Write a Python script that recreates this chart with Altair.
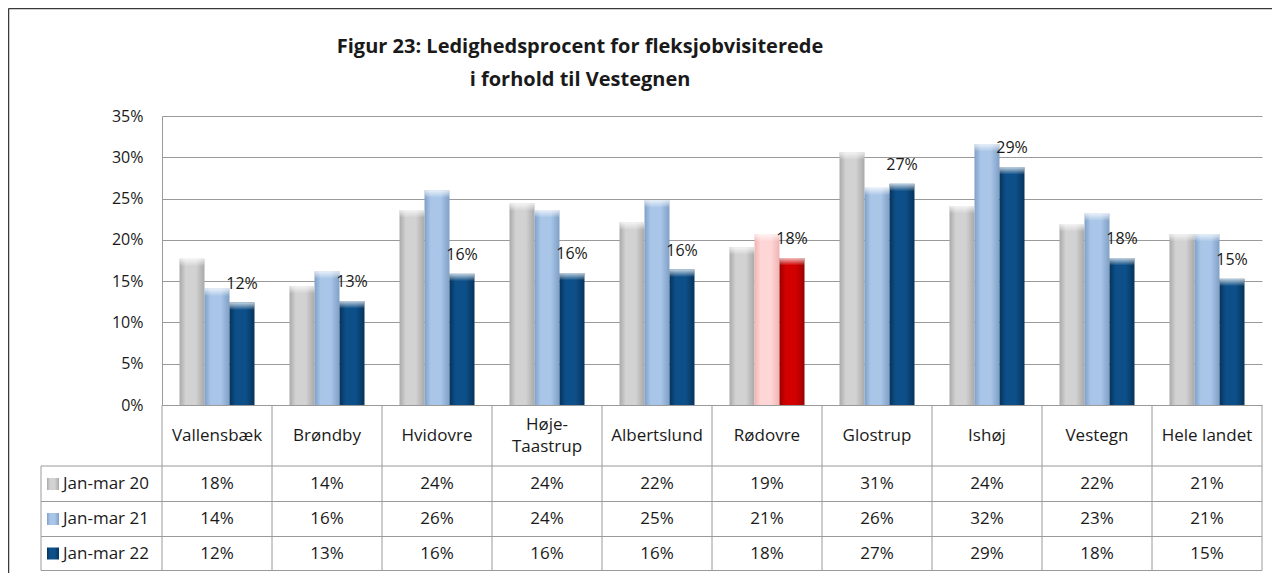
import altair as alt
import pandas as pd

# ---------------- data ----------------
categories = ["Vallensbæk", "Brøndby", "Hvidovre", "Høje-Taastrup", "Albertslund",
              "Rødovre", "Glostrup", "Ishøj", "Vestegn", "Hele landet"]
header_labels = ["Vallensbæk", "Brøndby", "Hvidovre", "Høje-\nTaastrup", "Albertslund",
                 "Rødovre", "Glostrup", "Ishøj", "Vestegn", "Hele landet"]
series = ["Jan-mar 20", "Jan-mar 21", "Jan-mar 22"]
jan_mar_20 = [0.177, 0.144, 0.236, 0.244, 0.221, 0.191, 0.306, 0.241, 0.219, 0.207]
jan_mar_21 = [0.141, 0.162, 0.260, 0.236, 0.248, 0.207, 0.263, 0.316, 0.232, 0.207]
jan_mar_22 = [0.124, 0.126, 0.159, 0.160, 0.164, 0.178, 0.268, 0.288, 0.178, 0.153]
highlight = "Rødovre"
title_lines = ["Figur 23: Ledighedsprocent for fleksjobvisiterede", "i forhold til Vestegnen"]
y_ticks = [0, 0.05, 0.10, 0.15, 0.20, 0.25, 0.30, 0.35]

values_by_series = {"Jan-mar 20": jan_mar_20, "Jan-mar 21": jan_mar_21, "Jan-mar 22": jan_mar_22}

rows = []
for s in series:
    for c, v in zip(categories, values_by_series[s]):
        if s == "Jan-mar 20":
            style = "gray"
        elif s == "Jan-mar 21":
            style = "pink" if c == highlight else "lightblue"
        else:
            style = "red" if c == highlight else "darkblue"
        rows.append({"cat": c, "series": s, "value": v, "style": style})
df = pd.DataFrame(rows)
hdr = pd.DataFrame({"cat": categories, "label": header_labels})
hdr["multi"] = hdr["label"].str.contains("\n")

# ---------------- styling ----------------
FONT = "Open Sans"
TXT = "#1a1a1a"
LINE = "#9a9a9a"
FS = 17
W, H = 1100, 289


def hgrad(edge, mid):
    return alt.Gradient(
        gradient="linear", x1=0, x2=1, y1=0, y2=0,
        stops=[alt.GradientStop(offset=0, color=edge),
               alt.GradientStop(offset=0.25, color=mid),
               alt.GradientStop(offset=0.65, color=mid),
               alt.GradientStop(offset=1, color=edge)])


fills = {
    "gray": hgrad("#a9a9a9", "#d2d2d2"),
    "lightblue": hgrad("#7f9fc6", "#a9c6e8"),
    "darkblue": hgrad("#06335c", "#0d4f88"),
    "pink": hgrad("#f0b4b4", "#ffd6d6"),
    "red": hgrad("#9a0000", "#d20000"),
}
key_fills = ["gray", "lightblue", "darkblue"]

xscale = alt.Scale(domain=categories, paddingInner=0, paddingOuter=0)
x_enc = alt.X("cat:N", sort=categories, scale=xscale, axis=None)
xo_enc = alt.XOffset("series:N", scale=alt.Scale(domain=series, paddingInner=0, paddingOuter=0.7))
yscale = alt.Scale(domain=[0, 0.35], nice=False, zero=True)
y_axis = alt.Axis(values=y_ticks, format=".0%", grid=True, ticks=False, tickSize=0,
                  domain=True, domainColor=LINE, gridColor=LINE, gridOpacity=1, labelPadding=19,
                  labelFont=FONT, labelFontSize=16, labelColor=TXT, title=None)
y_enc = alt.Y("value:Q", scale=yscale, axis=y_axis)

base = alt.Chart(df)
layers = []

# axis carrier layer
layers.append(
    alt.Chart(pd.DataFrame({"value": y_ticks})).mark_tick(opacity=0).encode(y=y_enc)
)

# bars (one layer per fill style)
for st in ["gray", "lightblue", "darkblue", "pink", "red"]:
    layers.append(
        base.transform_filter(alt.datum.style == st)
        .mark_bar(color=fills[st])
        .encode(x=x_enc, xOffset=xo_enc, y=y_enc)
    )

# bevel highlight at the top of each bar
layers.append(
    base.transform_calculate(cap="datum.value - 0.009")
    .mark_bar(color=alt.Gradient(gradient="linear", x1=0, x2=0, y1=0, y2=1,
                                 stops=[alt.GradientStop(offset=0, color="rgba(255,255,255,0.75)"),
                                        alt.GradientStop(offset=1, color="rgba(255,255,255,0)")]))
    .encode(x=x_enc, xOffset=xo_enc, y=y_enc, y2="cap:Q")
)

# data labels for Jan-mar 22
layers.append(
    base.transform_filter(alt.datum.series == "Jan-mar 22")
    .mark_text(font=FONT, fontSize=16, color=TXT, baseline="middle", dy=-19)
    .encode(x=x_enc, xOffset=xo_enc, y=y_enc,
            text=alt.Text("value:Q", format=".0%"))
)

# ---------------- data table ----------------
one = pd.DataFrame({"k": [0]})
row_lines = [350, 385.5, 420.5, 454.5]
row_centers = [368, 403, 437.5]

# vertical lines at category boundaries
layers.append(
    alt.Chart(hdr).mark_rule(color=LINE, strokeWidth=1)
    .encode(x=alt.X("cat:N", sort=categories, scale=xscale, axis=None, bandPosition=0),
            y=alt.value(H), y2=alt.value(row_lines[-1]))
)
layers.append(alt.Chart(one).mark_rule(color=LINE).encode(
    x=alt.value(W), y=alt.value(H), y2=alt.value(row_lines[-1])))
layers.append(alt.Chart(one).mark_rule(color=LINE).encode(
    x=alt.value(-121), y=alt.value(row_lines[0]), y2=alt.value(row_lines[-1])))
for yl in row_lines:
    layers.append(alt.Chart(one).mark_rule(color=LINE).encode(
        x=alt.value(-121), x2=alt.value(W), y=alt.value(yl)))

# header labels (single-line and two-line)
for multi, yv in [(False, 320), (True, 309)]:
    layers.append(
        alt.Chart(hdr).transform_filter(alt.datum.multi == multi)
        .mark_text(font=FONT, fontSize=FS, color=TXT, baseline="middle",
                   lineBreak="\n", lineHeight=22)
        .encode(x=x_enc, y=alt.value(yv), text="label:N")
    )

# value rows + legend keys
for i, s in enumerate(series):
    rc = row_centers[i]
    layers.append(
        base.transform_filter(alt.datum.series == s)
        .mark_text(font=FONT, fontSize=FS, color=TXT, baseline="middle")
        .encode(x=x_enc, y=alt.value(rc), text=alt.Text("value:Q", format=".0%"))
    )
    layers.append(
        alt.Chart(pd.DataFrame({"series": [s]}))
        .mark_rect(color=fills[key_fills[i]])
        .encode(x=alt.value(-115), x2=alt.value(-103), y=alt.value(rc - 6), y2=alt.value(rc + 6))
    )
    layers.append(
        alt.Chart(pd.DataFrame({"series": [s]}))
        .mark_text(font=FONT, fontSize=FS, color=TXT, baseline="middle", align="left")
        .encode(x=alt.value(-99), y=alt.value(rc), text="series:N")
    )

# ---------------- title ----------------
for line, yv in zip(title_lines, [-69, -36]):
    layers.append(
        alt.Chart(pd.DataFrame({"t": [line]}))
        .mark_text(font=FONT, fontSize=20, fontWeight="bold", color=TXT, baseline="middle")
        .encode(x=alt.value(418), y=alt.value(yv), text="t:N")
    )

# chart frame (left and top)
layers.append(alt.Chart(one).mark_rule(color="#3a3a3a", strokeWidth=1.5).encode(
    x=alt.value(-153.5), y=alt.value(-107.5), y2=alt.value(H + 168)))
layers.append(alt.Chart(one).mark_rule(color="#3a3a3a", strokeWidth=1.5).encode(
    x=alt.value(-153.5), x2=alt.value(W + 10), y=alt.value(-107.5)))

chart = (
    alt.layer(*layers)
    .properties(width=W, height=H,
                autosize=alt.AutoSizeParams(type="none"),
                padding={"left": 154, "top": 108, "right": 10, "bottom": 168},
                background="white")
    .configure_view(stroke=None)
)

chart.save("out.html", embed_options={"renderer": "svg", "actions": False})
